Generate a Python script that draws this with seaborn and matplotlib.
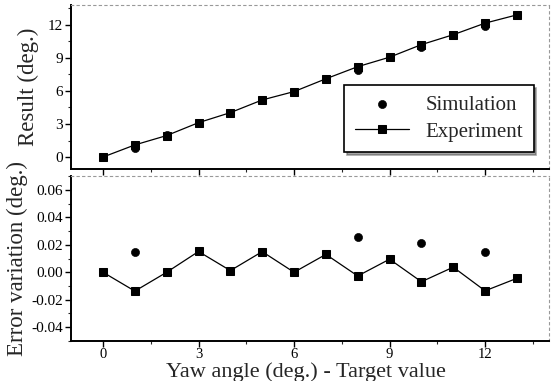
import numpy as np
import pandas as pd
import matplotlib
matplotlib.use("Agg")
import matplotlib.pyplot as plt
import matplotlib.ticker as ticker
import seaborn as sns

# values
exp_x = [0, 1, 2, 3, 4, 5, 6, 7, 8, 9, 10, 11, 12, 13]
exp_result = [0.0, 1.1, 1.95, 3.12, 4.03, 5.18, 5.94, 7.1, 8.2, 9.06, 10.2, 11.1, 12.15, 12.9]
exp_error = [0.0, -0.0137, 0.0, 0.0151, 0.0012, 0.015, 0.0, 0.013, -0.0027, 0.0095,
             -0.0069, 0.0037, -0.0135, -0.0044]

sim_x = [0, 1, 2, 8, 10, 12]
sim_result = [0.0, 0.85, 1.98, 7.9, 9.94, 11.85]
sim_error = [0.0, 0.015, 0.0, 0.0254, 0.0212, 0.0144]

x_ticks = [0, 3, 6, 9, 12]

sns.set_style("ticks")
plt.rcParams['font.family'] = ['Liberation Serif', 'DejaVu Serif']

exp_df = pd.DataFrame({'x': exp_x, 'result': exp_result, 'error': exp_error})
sim_df = pd.DataFrame({'x': sim_x, 'result': sim_result, 'error': sim_error})

fig = plt.figure(figsize=(5.56, 3.81), dpi=100)
ax1 = fig.add_axes([0.128, 0.556, 0.859, 0.431])
ax2 = fig.add_axes([0.128, 0.105, 0.859, 0.433])


def style_axis(ax):
    for s in ['top', 'right']:
        ax.spines[s].set_color('#999999')
        ax.spines[s].set_linestyle((0, (2, 3)))
        ax.spines[s].set_linewidth(0.8)
    for s in ['left', 'bottom']:
        ax.spines[s].set_color('black')
        ax.spines[s].set_linewidth(1.4)
    ax.tick_params(axis='both', which='major', direction='out', length=4, width=1,
                   labelsize=11, pad=2, colors='black')
    ax.tick_params(axis='both', which='minor', direction='out', length=2, width=0.8)
    ax.set_xlim(-1, 14)
    ax.set_xticks(x_ticks)
    ax.xaxis.set_minor_locator(ticker.MultipleLocator(1.5))


for ax, col in [(ax1, 'result'), (ax2, 'error')]:
    sns.lineplot(data=exp_df, x='x', y=col, ax=ax, color='black', linewidth=0.9,
                 marker='s', markersize=6, markeredgecolor='black', label='Experiment')
    sns.scatterplot(data=sim_df, x='x', y=col, ax=ax, color='black', s=34,
                    edgecolor='black', marker='o', label='Simulation', zorder=3)
    style_axis(ax)
    ax.set_xlabel('')

# top panel
ax1.set_ylim(-1.1, 13.8)
ax1.set_yticks([0, 3, 6, 9, 12])
ax1.yaxis.set_minor_locator(ticker.MultipleLocator(1.5))
ax1.tick_params(axis='x', labelbottom=False)
ax1.set_ylabel('Result (deg.)', fontsize=16.5, labelpad=6)

handles, labels = ax1.get_legend_handles_labels()
order = [labels.index('Simulation'), labels.index('Experiment')]
leg = ax1.legend([handles[i] for i in order], [labels[i] for i in order],
                 loc='lower right', bbox_to_anchor=(0.99, 0.04), fontsize=15,
                 frameon=True, fancybox=False, shadow=True, edgecolor='black',
                 handlelength=2.6, borderpad=0.5, labelspacing=0.35)
leg.get_frame().set_linewidth(1.2)

# bottom panel
ax2.set_ylim(-0.05, 0.07)
ax2.set_yticks([-0.04, -0.02, 0.00, 0.02, 0.04, 0.06])
ax2.yaxis.set_major_formatter(ticker.FuncFormatter(lambda v, p: '%.2f' % v))
ax2.yaxis.set_minor_locator(ticker.MultipleLocator(0.01))
ax2.tick_params(axis='x', which='major', pad=1, labelsize=10.5)
ax2.get_legend().remove()
ax2.set_ylabel('Error variation (deg.)', fontsize=16.5, labelpad=2)
fig.text(0.55, 0.022, 'Yaw angle (deg.) - Target value', fontsize=16,
         ha='center', va='center')

fig.savefig('out.png', dpi=100)
